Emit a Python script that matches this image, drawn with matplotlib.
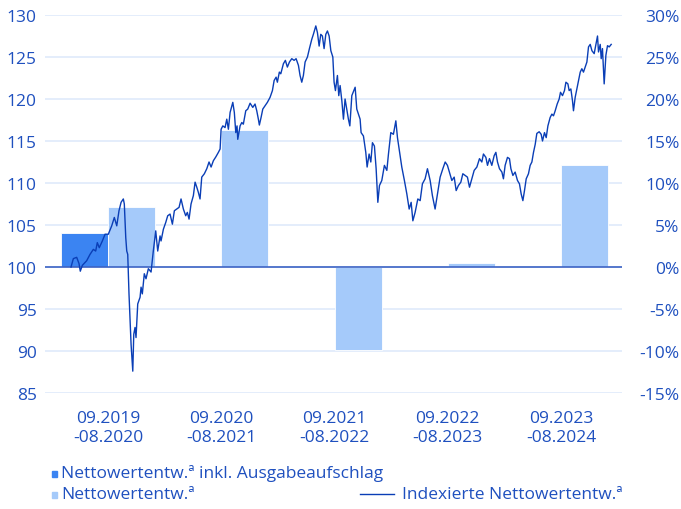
import matplotlib
matplotlib.use("Agg")
import matplotlib.pyplot as plt
from matplotlib.lines import Line2D
from matplotlib.patches import Rectangle

plt.rcParams['font.family'] = ['Open Sans', 'DejaVu Sans']

# yearly returns in % (five 12-month periods)
periods = ["09.2019\n-08.2020", "09.2020\n-08.2021", "09.2021\n-08.2022",
           "09.2022\n-08.2023", "09.2023\n-08.2024"]
ret_incl_fee = [4.1, None, None, None, None]
ret_net = [7.1, 16.3, -9.9, 0.5, 12.2]

# indexed net value, months since start of 09.2019
idx_month = [
    0.00, 0.26, 0.63, 0.89, 1.03, 1.26, 1.74, 2.11, 2.48, 2.74, 2.92, 3.14,
    3.48, 3.78, 4.14, 4.52, 4.81, 5.08, 5.33, 5.56, 5.81, 5.92, 6.08, 6.19,
    6.30, 6.44, 6.56, 6.67, 6.74, 6.86, 6.97, 7.11, 7.22, 7.41, 7.67, 7.78,
    7.92, 8.14, 8.33, 8.59, 8.89, 9.14, 9.41, 9.63, 9.89, 10.00, 10.26, 10.52,
    10.74, 11.00, 11.26, 11.48, 11.74, 12.00, 12.22, 12.48, 12.74, 12.92, 13.11,
    13.33, 13.59, 13.78, 13.97, 14.14, 14.33, 14.52, 14.81, 15.08, 15.33, 15.56,
    15.81, 16.08, 16.37, 16.56, 16.67, 16.86, 17.11, 17.30, 17.48, 17.67, 17.97,
    18.14, 18.30, 18.44, 18.52, 18.78, 18.97, 19.14, 19.41, 19.63, 19.89, 20.19,
    20.44, 20.63, 20.81, 20.92, 21.11, 21.30, 21.56, 21.81, 22.11, 22.37, 22.56,
    22.78, 22.92, 23.14, 23.30, 23.44, 23.59, 23.81, 24.03, 24.26, 24.52, 24.78,
    25.00, 25.26, 25.44, 25.63, 25.81, 26.00, 26.26, 26.48, 26.74, 26.92, 27.19,
    27.37, 27.56, 27.74, 27.92, 28.11, 28.30, 28.48, 28.67, 28.86, 29.08, 29.22,
    29.37, 29.59, 29.74, 29.89, 30.08, 30.26, 30.44, 30.63, 30.81, 30.97, 31.19,
    31.56, 31.74, 32.11, 32.22, 32.48, 32.74, 32.89, 33.11, 33.30, 33.48, 33.70,
    33.89, 34.08, 34.26, 34.52, 34.81, 35.08, 35.26, 35.52, 35.81, 36.08, 36.26,
    36.56, 36.74, 37.03, 37.30, 37.56, 37.78, 37.97, 38.22, 38.52, 38.78, 39.03,
    39.33, 39.59, 39.89, 40.14, 40.44, 40.74, 41.00, 41.30, 41.56, 41.81, 42.03,
    42.30, 42.56, 42.78, 43.03, 43.30, 43.52, 43.78, 44.03, 44.26, 44.52, 44.78,
    45.08, 45.37, 45.63, 45.81, 46.08, 46.26, 46.48, 46.74, 47.00, 47.19, 47.37,
    47.59, 47.86, 48.03, 48.22, 48.48, 48.70, 48.86, 49.08, 49.33, 49.59, 49.81,
    50.00, 50.19, 50.37, 50.56, 50.81, 51.00, 51.19, 51.37, 51.56, 51.74, 52.00,
    52.22, 52.37, 52.59, 52.78, 52.97, 53.22, 53.41, 53.59, 53.78, 54.00, 54.22,
    54.37, 54.59, 54.81, 54.97, 55.19, 55.33, 55.52, 55.70, 55.81, 56.00, 56.19,
    56.37, 56.56, 56.74, 56.92, 57.11, 57.30, 57.48, 57.67, 57.86, 58.11, 58.30,
    58.48, 58.59, 58.78, 58.89, 59.03, 59.22, 59.41, 59.59, 59.78, 60.00,
]
idx_value = [
    100.0, 101.0, 101.15, 100.4, 99.5, 100.2, 100.75, 101.5, 102.1, 101.9, 102.9, 102.3,
    103.1, 103.9, 103.9, 104.9, 105.9, 104.9, 106.7, 107.7, 108.1, 107.5, 103.5, 101.9,
    101.5, 96.8, 93.6, 90.8, 89.6, 87.6, 92.0, 92.8, 91.6, 95.6, 96.4, 97.6,
    96.8, 99.2, 98.6, 99.8, 99.4, 101.9, 104.3, 101.9, 103.7, 103.1, 104.5, 105.3,
    106.1, 106.3, 105.1, 106.7, 106.9, 107.1, 108.1, 106.9, 106.1, 106.5, 105.7,
    107.5, 108.5, 110.1, 109.5, 108.9, 108.1, 110.7, 111.1, 111.7, 112.5, 111.9,
    112.65, 113.1, 113.65, 114.05, 116.4, 116.8, 116.6, 117.6, 116.4, 118.4, 119.6,
    118.4, 116.0, 116.8, 115.2, 116.8, 117.2, 117.0, 118.6, 118.8, 119.5, 119.0,
    119.4, 118.6, 117.6, 116.9, 117.8, 118.8, 119.2, 119.6, 120.2, 121.0, 122.2,
    122.6, 122.0, 123.2, 123.0, 123.6, 124.2, 124.6, 123.8, 124.4, 124.8, 124.6,
    124.8, 124.0, 122.8, 122.0, 122.8, 124.4, 125.0, 126.0, 127.1, 127.7, 128.7,
    127.9, 126.3, 127.7, 127.5, 126.0, 127.7, 128.1, 127.5, 125.75, 125.0, 122.0,
    121.0, 122.8, 120.4, 121.6, 119.8, 117.6, 120.0, 118.8, 117.6, 116.8, 120.4,
    121.4, 118.8, 117.6, 116.0, 115.6, 113.65, 111.9, 113.45, 112.5, 114.8, 114.4,
    111.7, 107.7, 109.7, 110.3, 112.1, 111.5, 113.45, 116.0, 115.8, 117.4, 115.4,
    113.25, 111.9, 110.3, 108.7, 106.9, 107.7, 105.5, 106.5, 108.1, 107.9, 109.9,
    110.5, 111.7, 110.3, 108.5, 106.9, 108.9, 110.7, 111.7, 112.5, 112.1, 111.3,
    110.3, 110.7, 109.1, 109.7, 110.1, 111.1, 110.9, 110.7, 109.5, 110.5, 111.5,
    111.9, 112.9, 112.5, 113.45, 113.05, 112.1, 112.9, 112.1, 113.25, 113.65, 112.5,
    111.7, 111.3, 110.5, 112.1, 113.05, 112.9, 111.7, 110.9, 111.3, 110.3, 109.9,
    108.7, 107.9, 109.1, 110.5, 111.1, 112.1, 112.5, 113.65, 114.6, 115.9, 116.1,
    115.8, 115.0, 116.0, 115.4, 116.8, 117.8, 118.2, 118.0, 118.6, 119.4, 120.0,
    120.8, 120.4, 121.0, 122.0, 121.8, 121.0, 121.2, 119.8, 118.6, 120.2, 121.2,
    122.2, 123.2, 123.6, 123.2, 123.8, 124.4, 126.2, 126.5, 125.75, 125.4, 126.5,
    127.5, 125.6, 126.5, 124.8, 126.0, 121.8, 125.2, 126.35, 126.2, 126.5,
]

dark = '#3b84f2'
light = '#a5cafa'
line_c = '#0a3eb6'
txt = '#1f50bf'
grid_c = '#e2ecfb'
base_c = '#3d63c4'
fs = 12.5

fig = plt.figure(figsize=(6.81, 5.10), dpi=100)
rect = [45 / 681, 1 - 394 / 510, 577 / 681, 378 / 510]

# bar axes (category x, percent y on right)
ax = fig.add_axes(rect)
x = list(range(len(periods)))
w = 0.415
xs_d = [i - w / 2 for i, v in zip(x, ret_incl_fee) if v is not None]
hs_d = [v for v in ret_incl_fee if v is not None]
ax.bar(xs_d, hs_d, width=w, color=dark, edgecolor='white', linewidth=0.6, zorder=2)
ax.bar([i + w / 2 for i in x], ret_net, width=w, color=light,
       edgecolor='white', linewidth=0.6, zorder=2)
ax.set_xlim(-0.56, 4.54)
ax.set_ylim(-15, 30)
ax.set_yticks(range(-15, 31, 5))
ax.set_yticklabels([f"{v}%" for v in range(-15, 31, 5)])
ax.yaxis.tick_right()
ax.tick_params(axis='y', length=0, pad=41.5, labelsize=fs, labelcolor=txt)
for lbl in ax.get_yticklabels():
    lbl.set_horizontalalignment('right')
ax.set_xticks(x)
ax.set_xticklabels(periods, linespacing=1.3)
ax.tick_params(axis='x', length=0, pad=12, labelsize=fs, labelcolor=txt)
ax.grid(axis='y', color=grid_c, linewidth=1.3, zorder=0)
ax.set_axisbelow(True)
ax.axhline(0, color=base_c, linewidth=1.2, zorder=3)
for s in ax.spines.values():
    s.set_visible(False)

# index line axes on top (months x, index y on left)
axl = fig.add_axes(rect, zorder=3)
axl.patch.set_visible(False)
axl.plot(idx_month, idx_value, color=line_c, linewidth=1.0)
axl.set_xlim(-2.89, 61.2)
axl.set_ylim(85, 130)
axl.set_yticks(range(85, 131, 5))
axl.tick_params(axis='y', length=0, pad=6, labelsize=fs, labelcolor=txt)
axl.set_xticks([])
for s in axl.spines.values():
    s.set_visible(False)

# legend drawn by hand
W, H = 681, 510
fig.patches.append(Rectangle((52 / W, 1 - 478 / H), 5 / W, 6 / H,
                             transform=fig.transFigure, color=dark))
fig.text(61 / W, 1 - 474 / H, "Nettowertentw.ª inkl. Ausgabeaufschlag",
         fontsize=fs, color=txt, va='center')
fig.patches.append(Rectangle((52 / W, 1 - 499 / H), 5 / W, 6 / H,
                             transform=fig.transFigure, color=light))
fig.text(61 / W, 1 - 495 / H, "Nettowertentw.ª",
         fontsize=fs, color=txt, va='center')
fig.add_artist(Line2D([360 / W, 394 / W], [1 - 495 / H, 1 - 495 / H],
                      transform=fig.transFigure, color=line_c, linewidth=1))
fig.text(402 / W, 1 - 495 / H, "Indexierte Nettowertentw.ª",
         fontsize=fs, color=txt, va='center')

fig.savefig("out.png", dpi=100)
